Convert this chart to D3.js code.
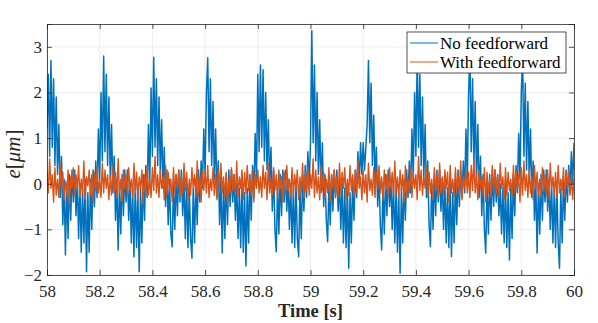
<!DOCTYPE html>
<html>
<head>
<meta charset="utf-8">
<script src="https://cdn.jsdelivr.net/npm/d3@7"></script>
<style>
  html, body { margin: 0; padding: 0; background: #fff; }
  svg { display: block; font-family: "Liberation Serif", "Times New Roman", serif; }
</style>
</head>
<body>
<svg id="chart" width="598" height="323"></svg>
<script>
/* ---- Data: sampled error signal, 58 s to 60 s, one sample every 5 ms ---- */
const T0 = 58;
const DT = 0.005;

// No feedforward (blue), in um
const noFeedforward = [
  1.2, 2.4, 0.6, 2.7, 0.8, 2.3, 0.4, 1.9, 0.2, 1.3,
  -0.3, 0.6, -0.9, 0.1, -1.56, 0.0, -1.2, 0.2, -0.8, 0.3,
  -0.4, 0.3, -0.7, 0.1, -1.2, 0.0, -1.5, -0.1, -1.3, 0.1,
  -1.93, -0.2, -1.5, 0.1, -1.0, 0.3, -0.5, 0.5, -0.3, 1.2,
  0.1, 2.0, 0.5, 2.8, 0.7, 2.4, 0.4, 1.9, 0.1, 1.3,
  -0.2, 0.6, -0.8, 0.1, -1.45, 0.0, -1.1, 0.2, -0.7, 0.3,
  -0.4, 0.3, -0.8, 0.0, -1.3, -0.1, -1.6, 0.0, -1.4, -0.2,
  -1.93, -0.1, -1.3, 0.2, -0.8, 0.4, -0.3, 1.3, 0.0, 2.1,
  0.6, 2.77, 0.8, 2.3, 0.4, 1.9, 0.2, 1.4, -0.1, 0.8,
  -0.5, 0.3, -0.9, 0.1, -1.1, -1.38, 0.0, -1.0, 0.2, -0.7,
  0.3, -0.4, 0.3, -0.7, 0.1, -1.2, 0.0, -1.4, -0.1, -1.2,
  -1.63, -0.1, -1.3, 0.1, -0.9, 0.3, -0.4, 0.5, -0.1, 1.2,
  0.2, 2.0, 2.76, 0.7, 2.3, 0.4, 1.8, 0.1, 1.2, -0.3,
  0.5, -0.9, 0.1, -1.52, 0.0, -1.2, 0.2, -0.9, 0.3, -0.5,
  0.3, -0.4, 0.2, -0.8, 0.0, -1.2, -0.1, -1.4, 0.0, -1.5,
  -0.2, -1.8, -0.1, -1.3, 0.2, -0.8, 0.4, -0.3, 1.1, 0.1,
  2.4, 0.7, 2.6, 0.8, 2.5, 0.5, 2.0, 0.3, 1.4, -0.1,
  0.8, -0.6, 0.3, -1.0, -1.49, 0.0, -1.1, 0.2, -0.7, 0.3,
  -0.4, 0.3, -0.6, 0.1, -1.0, 0.0, -1.3, -0.1, -1.4, 0.0,
  -1.2, -1.6, -0.1, -1.2, 0.2, -0.6, 0.4, -0.3, 0.7, 0.0,
  0.9, 3.35, 0.9, 2.6, 0.5, 2.0, 0.2, 1.4, -0.2, 0.9,
  -0.5, 0.2, -0.8, -1.27, 0.0, -0.9, 0.2, -0.6, 0.3, -0.3,
  0.3, -0.6, 0.1, -1.0, 0.0, -1.3, -0.1, -1.4, 0.0, -1.85,
  -0.2, -1.3, 0.1, -0.8, 0.3, -0.3, 0.7, 0.0, 0.9, 0.2,
  0.9, 0.3, 0.8, 1.3, 2.7, 0.9, 2.2, 0.4, 1.5, 0.0,
  0.8, -0.5, 0.2, -0.9, -1.45, 0.0, -1.1, 0.2, -0.7, 0.3,
  -0.5, 0.1, -1.0, 0.0, -1.3, -0.1, -1.5, -0.2, -1.96, -0.1,
  -1.3, 0.1, -0.8, 0.3, -0.3, 0.5, -0.2, 1.2, 0.1, 2.0,
  0.6, 2.85, 0.8, 2.4, 0.4, 1.9, 0.1, 1.3, -0.3, 0.5,
  -0.9, -1.38, 0.0, -1.0, 0.2, -0.7, 0.3, -0.4, 0.3, -0.6,
  0.1, -1.0, 0.0, -1.3, -0.1, -1.4, 0.0, -1.6, -0.2, -1.3,
  0.1, -0.9, 0.3, -0.5, 0.3, -0.3, 0.5, -0.2, 1.2, 0.1,
  2.0, 2.8, 0.7, 2.3, 0.4, 1.8, 0.1, 1.3, -0.3, 0.6,
  -0.7, 0.2, -1.0, -1.52, 0.0, -1.1, 0.2, -0.8, 0.3, -0.5,
  0.3, -0.4, 0.2, -0.7, 0.0, -1.1, -0.1, -1.3, 0.0, -1.4,
  -0.2, -1.67, -0.1, -1.2, 0.2, -0.7, 0.4, -0.2, 1.1, 0.1,
  2.0, 2.75, 0.6, 2.2, 0.3, 1.8, 0.1, 1.2, -0.3, 0.5,
  -0.8, 0.1, -1.52, 0.0, -1.1, 0.2, -0.8, 0.3, -0.4, 0.3,
  -0.6, 0.1, -1.0, 0.0, -1.3, -0.1, -1.4, 0.0, -1.3, -1.85,
  -0.1, -1.3, 0.1, -0.8, 0.3, -0.4, 0.4, -0.2, 0.7, 0.0,
  0.9
];

// With feedforward (orange)
const withFeedforward = [
  0.3, -0.2, 0.55, -0.1, 0.2, -0.4, 0.35, -0.25, 0.1, -0.3, 0.45, -0.15, 0.25, -0.35, 0.05, -0.2, 0.3, -0.45, 0.15, -0.1,
  0.35, -0.25, 0.2, -0.1, 0.4, -0.3, 0.1, -0.2, 0.5, -0.35, 0.15, -0.05, 0.3, -0.25, 0.2, -0.4, 0.25, -0.15, 0.35, -0.2,
  0.1, -0.3, 0.45, -0.2, 0.3, -0.1, 0.2, -0.35, 0.15, -0.25, 0.4, -0.15, 0.25, -0.3, 0.55, -0.2, 0.1, -0.4, 0.3, -0.1,
  0.2, -0.25, 0.35, -0.15, 0.1, -0.3, 0.45, -0.2, 0.25, -0.35, 0.15, -0.1, 0.3, -0.45, 0.2, -0.2, 0.4, -0.25, 0.1, -0.3,
  0.35, -0.15, 0.6, -0.2, 0.2, -0.3, 0.3, -0.1, 0.15, -0.35, 0.4, -0.25, 0.25, -0.15, 0.1, -0.4, 0.35, -0.2, 0.2, -0.1,
  0.3, -0.3, 0.15, -0.2, 0.45, -0.15, 0.25, -0.35, 0.1, -0.25, 0.35, -0.1, 0.2, -0.3, 0.5, -0.2, 0.15, -0.4, 0.3, -0.15,
  0.25, -0.2, 0.4, -0.3, 0.1, -0.15, 0.35, -0.25, 0.2, -0.35, 0.3, -0.1, 0.45, -0.2, 0.15, -0.3, 0.25, -0.45, 0.1, -0.2,
  0.35, -0.15, 0.2, -0.25, 0.5, -0.3, 0.15, -0.1, 0.3, -0.35, 0.25, -0.2, 0.4, -0.15, 0.1, -0.25, 0.3, -0.4, 0.2, -0.1,
  0.3, -0.2, 0.15, -0.3, 0.4, -0.1, 0.25, -0.35, 0.45, -0.2, 0.1, -0.25, 0.35, -0.15, 0.2, -0.3, 0.3, -0.1, 0.15, -0.4,
  0.25, -0.2, 0.4, -0.15, 0.1, -0.3, 0.35, -0.25, 0.2, -0.1, 0.3, -0.35, 0.15, -0.2, 0.45, -0.3, 0.25, -0.15, 0.35, -0.25,
  0.2, -0.1, 0.55, -0.3, 0.3, -0.2, 0.15, -0.35, 0.4, -0.15, 0.25, -0.3, 0.1, -0.2, 0.35, -0.4, 0.2, -0.1, 0.3, -0.25,
  0.15, -0.3, 0.45, -0.2, 0.25, -0.1, 0.35, -0.35, 0.1, -0.25, 0.4, -0.15, 0.2, -0.3, 0.3, -0.2, 0.5, -0.1, 0.15, -0.35,
  0.3, -0.2, 0.2, -0.4, 0.45, -0.15, 0.1, -0.25, 0.35, -0.3, 0.25, -0.1, 0.4, -0.2, 0.15, -0.35, 0.3, -0.15, 0.2, -0.3,
  0.35, -0.1, 0.25, -0.25, 0.5, -0.2, 0.15, -0.3, 0.3, -0.15, 0.2, -0.4, 0.4, -0.25, 0.1, -0.2, 0.35, -0.3, 0.25, -0.1,
  0.2, -0.35, 0.6, -0.15, 0.3, -0.25, 0.15, -0.1, 0.4, -0.3, 0.25, -0.2, 0.1, -0.35, 0.35, -0.15, 0.2, -0.3, 0.45, -0.2,
  0.15, -0.25, 0.3, -0.1, 0.25, -0.4, 0.4, -0.2, 0.1, -0.3, 0.35, -0.15, 0.2, -0.25, 0.5, -0.35, 0.15, -0.1, 0.3, -0.2,
  0.25, -0.3, 0.4, -0.15, 0.55, -0.2, 0.2, -0.35, 0.3, -0.1, 0.15, -0.25, 0.35, -0.4, 0.25, -0.2, 0.1, -0.3, 0.4, -0.15,
  0.3, -0.2, 0.2, -0.3, 0.45, -0.1, 0.15, -0.35, 0.35, -0.25, 0.25, -0.15, 0.1, -0.3, 0.4, -0.2, 0.3, -0.1, 0.2, -0.4,
  0.35, -0.25, 0.5, -0.15, 0.2, -0.3, 0.3, -0.2, 0.15, -0.35, 0.4, -0.1, 0.25, -0.25, 0.1, -0.3, 0.35, -0.15, 0.2, -0.2,
  0.3, -0.35, 0.45, -0.1, 0.15, -0.25, 0.25, -0.3, 0.4, -0.2, 0.1, -0.15, 0.35, -0.3, 0.2, -0.1, 0.3, -0.25, 0.15, -0.35,
  0.1
];

const xTicks = [58, 58.2, 58.4, 58.6, 58.8, 59, 59.2, 59.4, 59.6, 59.8, 60];
const yTicks = [-2, -1, 0, 1, 2, 3];
const seriesNames = ['No feedforward', 'With feedforward'];
const seriesColors = ['#0072BD', '#D95319'];
const seriesWidths = [1.5, 1.4];

/* ---- Layout ---- */
const FONT = '"Liberation Serif", "Times New Roman", serif';
const margin = { left: 47, right: 24, top: 24, bottom: 48 };
const W = 598, H = 323;
const iw = W - margin.left - margin.right;
const ih = H - margin.top - margin.bottom;

const svg = d3.select('#chart');
const g = svg.append('g').attr('transform', `translate(${margin.left},${margin.top})`);

const x = d3.scaleLinear().domain([58, 60]).range([0, iw]);
const y = d3.scaleLinear().domain([-2, 3.5]).range([ih, 0]);

/* ---- Grid ---- */
g.append('g').selectAll('line').data(xTicks).join('line')
  .attr('x1', d => x(d)).attr('x2', d => x(d))
  .attr('y1', 0).attr('y2', ih)
  .attr('stroke', '#e8e8e8').attr('stroke-width', 0.8);
g.append('g').selectAll('line').data(yTicks).join('line')
  .attr('y1', d => y(d)).attr('y2', d => y(d))
  .attr('x1', 0).attr('x2', iw)
  .attr('stroke', '#e8e8e8').attr('stroke-width', 0.8);

/* ---- Lines ---- */
svg.append('clipPath').attr('id', 'plotclip')
  .append('rect').attr('width', iw).attr('height', ih);

const line = d3.line()
  .x((d, i) => x(T0 + i * DT))
  .y(d => y(d));

const lines = g.append('g').attr('clip-path', 'url(#plotclip)');
[noFeedforward, withFeedforward].forEach((s, k) => {
  lines.append('path')
    .datum(s)
    .attr('d', line)
    .attr('fill', 'none')
    .attr('stroke', seriesColors[k])
    .attr('stroke-width', seriesWidths[k])
    .attr('stroke-linejoin', 'round');
});

/* ---- Axes (MATLAB style, ticks inside, box on) ---- */
const axisColor = '#262626';
const fontSize = 17;

const xAxis = g.append('g').attr('transform', `translate(0,${ih})`)
  .call(d3.axisBottom(x).tickValues(xTicks).tickSize(-5).tickPadding(10)
    .tickFormat(d => d3.format('~g')(d)));
const xTop = g.append('g')
  .call(d3.axisTop(x).tickValues(xTicks).tickSize(-5).tickFormat(''));
const yAxis = g.append('g')
  .call(d3.axisLeft(y).tickValues(yTicks).tickSize(-5).tickPadding(5)
    .tickFormat(d => d3.format('~g')(d)));
const yRight = g.append('g').attr('transform', `translate(${iw},0)`)
  .call(d3.axisRight(y).tickValues(yTicks).tickSize(-5).tickFormat(''));

[xAxis, xTop, yAxis, yRight].forEach(a => {
  a.attr('font-family', FONT).attr('font-size', fontSize);
  a.select('.domain').attr('stroke', axisColor).attr('stroke-width', 0.8);
  a.selectAll('.tick line').attr('stroke', axisColor).attr('stroke-width', 0.8);
  a.selectAll('text').attr('fill', axisColor);
});

/* ---- Axis labels ---- */
svg.append('text')
  .attr('x', margin.left + iw / 2)
  .attr('y', 317)
  .attr('text-anchor', 'middle')
  .attr('font-family', FONT)
  .attr('font-size', 18.5)
  .attr('font-weight', 'bold')
  .attr('fill', axisColor)
  .text('Time [s]');

const yl = svg.append('text')
  .attr('transform', 'translate(20,154) rotate(-90)')
  .attr('text-anchor', 'middle')
  .attr('font-family', FONT)
  .attr('font-size', 21)
  .attr('fill', axisColor);
yl.append('tspan').attr('font-style', 'italic').text('e');
yl.append('tspan').text('[');
yl.append('tspan').attr('font-style', 'italic').text('μm');
yl.append('tspan').text(']');

/* ---- Legend ---- */
const lg = svg.append('g').attr('transform', 'translate(407,32)');
lg.append('rect')
  .attr('width', 159).attr('height', 41)
  .attr('fill', '#fff').attr('stroke', axisColor).attr('stroke-width', 0.8);
seriesNames.forEach((name, k) => {
  const yy = 11 + k * 19;
  lg.append('line')
    .attr('x1', 3).attr('x2', 31).attr('y1', yy).attr('y2', yy)
    .attr('stroke', seriesColors[k]).attr('stroke-width', 1);
  lg.append('text')
    .attr('x', 33).attr('y', yy + 5.5)
    .attr('font-family', FONT)
    .attr('font-size', fontSize)
    .attr('fill', '#000')
    .text(name);
});
</script>
</body>
</html>
